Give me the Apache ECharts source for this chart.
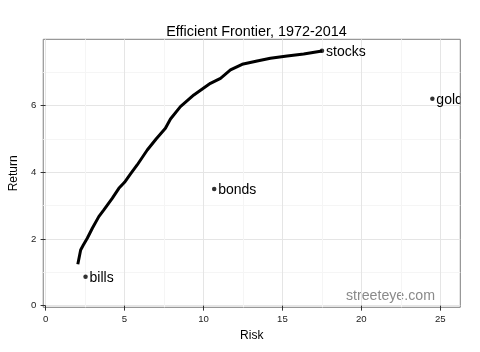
<!DOCTYPE html>
<html>
<head>
<meta charset="utf-8">
<script src="https://cdn.jsdelivr.net/npm/echarts@6/dist/echarts.min.js"></script>
<style>
  html, body { margin: 0; padding: 0; background: #fff; }
  #chart { width: 480px; height: 352px; }
</style>
</head>
<body>
<div id="chart"></div>
<script>
// frontier: risk / return pairs
const frontierRisk = [2.04, 2.22, 2.39, 2.64, 2.96, 3.37, 3.69, 4.22, 4.64, 5.0, 5.38, 5.80, 6.44, 7.0, 7.59, 7.91, 8.54, 9.39, 10.44, 11.08, 11.71, 12.45, 13.4, 14.24, 15.3, 16.35, 17.51]
const frontierReturn = [1.24, 1.67, 1.82, 2.02, 2.32, 2.67, 2.87, 3.22, 3.52, 3.70, 3.95, 4.22, 4.67, 5.0, 5.32, 5.60, 5.97, 6.32, 6.67, 6.82, 7.07, 7.24, 7.34, 7.42, 7.49, 7.55, 7.64]

const assetNames = ['stocks', 'gold', 'bonds', 'bills']
const assetRisk = [17.51, 24.5, 10.68, 2.53]
const assetReturn = [7.65, 6.21, 3.5, 0.87]

const xTicks = [0, 5, 10, 15, 20, 25]
const xMinor = [2.5, 7.5, 12.5, 17.5, 22.5]
const yTicks = [0, 2, 4, 6]
const yMinor = [1, 3, 5, 7]

const FONT = '"Liberation Sans", Arial, sans-serif'
const chart = echarts.init(document.getElementById('chart'))

const frontier = frontierRisk.map((x, i) => [x, frontierReturn[i]])
const assets = assetRisk.map((x, i) => [x, assetReturn[i]])

const xRange = { min: -0.15, max: 26.27 }
const yRange = { min: -0.05, max: 7.99 }

const majorAxis = (ticks, pos) => ({
  type: 'value',
  position: pos,
  ...(pos === 'bottom' ? xRange : yRange),
  axisLine: { show: false },
  axisTick: { show: true, length: 5, lineStyle: { color: '#333' }, customValues: ticks },
  axisLabel: { color: '#222', fontSize: 9.6, fontFamily: FONT, margin: 7, customValues: ticks },
  splitLine: { show: true, lineStyle: { color: '#e5e5e5', width: 1 } }
})
const minorAxis = (ticks, pos) => ({
  type: 'value',
  position: pos,
  ...(pos === 'bottom' ? xRange : yRange),
  axisLine: { show: false },
  axisTick: { show: false, customValues: ticks },
  axisLabel: { show: false, customValues: ticks },
  splitLine: { show: true, lineStyle: { color: '#f5f5f5', width: 1 } }
})

const option = {
  animation: false,
  backgroundColor: '#fff',
  title: {
    text: 'Efficient Frontier, 1972-2014',
    left: 251.5, top: 20, textAlign: 'center',
    textStyle: { fontSize: 14.4, fontWeight: 'normal', color: '#000', fontFamily: FONT }
  },
  grid: {
    left: 42.7, right: 19.7, top: 39.3, bottom: 44.7,
    show: true, borderColor: '#7f7f7f', borderWidth: 1, backgroundColor: 'transparent'
  },
  xAxis: [
    { ...minorAxis(xMinor, 'bottom') },
    {
      ...majorAxis(xTicks, 'bottom'),
      name: 'Risk', nameLocation: 'middle', nameGap: 19,
      nameTextStyle: { fontSize: 12, color: '#000', fontFamily: FONT }
    }
  ],
  yAxis: [
    { ...minorAxis(yMinor, 'left') },
    {
      ...majorAxis(yTicks, 'left'),
      name: 'Return', nameLocation: 'middle', nameGap: 15,
      nameTextStyle: { fontSize: 12, color: '#000', fontFamily: FONT }
    }
  ],
  graphic: [{
    type: 'text', right: 45, top: 289,
    style: { text: 'streeteye.com', fontSize: 14.2, fontFamily: FONT, fill: '#8a8a8a' }
  }],
  series: [
    {
      type: 'line', xAxisIndex: 1, yAxisIndex: 1,
      data: frontier, showSymbol: false, smooth: false,
      lineStyle: { color: '#000', width: 3 }
    },
    {
      type: 'scatter', xAxisIndex: 1, yAxisIndex: 1,
      data: assets, symbolSize: 4.5, itemStyle: { color: '#000' }
    },
    {
      // labels cut at the panel edge like the original ("gold")
      type: 'custom', xAxisIndex: 1, yAxisIndex: 1,
      data: assets,
      renderItem: (params, api) => {
        const p = api.coord([api.value(0), api.value(1)])
        const cs = params.coordSys
        return {
          type: 'group',
          clipPath: { type: 'rect', shape: { x: cs.x, y: cs.y, width: cs.width, height: cs.height } },
          children: [{
            type: 'text',
            x: p[0] + 4, y: p[1] + 1.5,
            style: {
              text: assetNames[params.dataIndex],
              fontSize: 14, fontFamily: FONT, fill: '#000',
              textAlign: 'left', textVerticalAlign: 'middle'
            }
          }]
        }
      }
    }
  ]
}

chart.setOption(option)
</script>
</body>
</html>
